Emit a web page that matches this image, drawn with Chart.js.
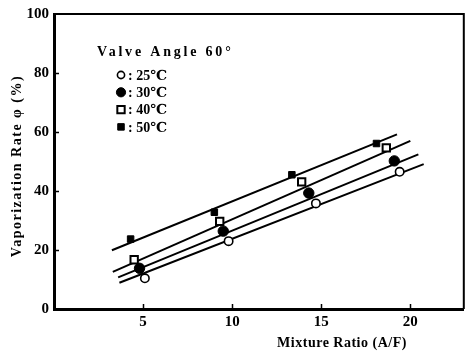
<!DOCTYPE html>
<html lang="en">
<head>
    <meta charset="UTF-8">
    <title>Vaporization Rate vs Mixture Ratio</title>
    <script src="https://cdn.jsdelivr.net/npm/chart.js"></script>
    <style>
        html, body {
            margin: 0;
            padding: 0;
            background: #fff;
        }
        .wrap {
            width: 471px;
            height: 352px;
        }
    </style>
</head>
<body>
    <div class="wrap"><canvas id="rateChart"></canvas></div>

    <script>
        // Measured points, one pair of arrays per temperature
        const temps = ['25℃', '30℃', '40℃', '50℃'];
        const ratio25 = [5.1, 9.8, 14.7, 19.4];
        const rate25  = [10.4, 23.0, 35.8, 46.5];
        const ratio30 = [4.8, 9.5, 14.3, 19.1];
        const rate30  = [13.8, 26.4, 39.3, 50.2];
        const ratio40 = [4.5, 9.3, 13.9, 18.65];
        const rate40  = [16.7, 29.7, 43.1, 54.6];
        const ratio50 = [4.3, 9.0, 13.35, 18.1];
        const rate50  = [23.7, 32.8, 45.5, 56.1];

        // Ends of the fitted line through each set
        const fitX25 = [3.67, 20.75];
        const fitY25 = [8.9, 49.1];
        const fitX30 = [3.6, 20.45];
        const fitY30 = [10.7, 52.4];
        const fitX40 = [3.3, 20.0];
        const fitY40 = [12.6, 57.0];
        const fitX50 = [3.25, 19.25];
        const fitY50 = [19.9, 59.2];

        const xTicks = [5, 10, 15, 20];
        const yTicks = [0, 20, 40, 60, 80, 100];

        const serif = '"Liberation Serif", "DejaVu Serif", serif';

        function pairs(xs, ys) {
            return xs.map((x, i) => ({ x: x, y: ys[i] }));
        }

        const markers = [
            { style: 'circle', radius: 4.2, fill: '#fff', border: 1.6 },
            { style: 'circle', radius: 5.2, fill: '#000', border: 1 },
            { style: 'rect', radius: 5.2, fill: '#fff', border: 2 },
            { style: 'rect', radius: 4.6, fill: '#000', border: 1 }
        ];

        const pointSets = [
            pairs(ratio25, rate25),
            pairs(ratio30, rate30),
            pairs(ratio40, rate40),
            pairs(ratio50, rate50)
        ];
        const fitSets = [
            pairs(fitX25, fitY25),
            pairs(fitX30, fitY30),
            pairs(fitX40, fitY40),
            pairs(fitX50, fitY50)
        ];

        const datasets = [];
        pointSets.forEach((pts, i) => {
            const m = markers[i];
            datasets.push({
                label: temps[i],
                data: pts,
                showLine: false,
                pointStyle: m.style,
                pointRadius: m.radius,
                pointBackgroundColor: m.fill,
                pointBorderColor: '#000',
                pointBorderWidth: m.border
            });
        });
        fitSets.forEach((pts, i) => {
            datasets.push({
                label: temps[i] + ' fit',
                data: pts,
                showLine: true,
                borderColor: '#000',
                borderWidth: 2,
                pointRadius: 0
            });
        });

        // Box, inward ticks, titles and the small key in the upper left
        const decorations = {
            id: 'decorations',
            afterDraw(chart) {
                const ctx = chart.ctx;
                const area = chart.chartArea;
                const xs = chart.scales.x;
                const ys = chart.scales.y;
                ctx.save();
                ctx.strokeStyle = '#000';

                // top and right edges of the frame
                ctx.lineWidth = 2;
                ctx.beginPath();
                ctx.moveTo(area.left, area.top);
                ctx.lineTo(area.right, area.top);
                ctx.lineTo(area.right, area.bottom);
                ctx.stroke();

                // ticks pointing into the plot
                ctx.lineWidth = 1.5;
                ctx.beginPath();
                xTicks.forEach(v => {
                    const px = Math.round(xs.getPixelForValue(v)) + 0.5;
                    ctx.moveTo(px, area.bottom + 1);
                    ctx.lineTo(px, area.bottom - 5);
                });
                yTicks.forEach(v => {
                    if (v === 0 || v === 100) return;
                    const py = Math.round(ys.getPixelForValue(v)) + 0.5;
                    ctx.moveTo(area.left, py);
                    ctx.lineTo(area.left + 5, py);
                });
                ctx.stroke();

                ctx.fillStyle = '#000';
                ctx.textBaseline = 'middle';

                // axis titles
                ctx.font = 'bold 14px ' + serif;
                ctx.letterSpacing = '0.5px';
                ctx.textAlign = 'center';
                ctx.fillText('Mixture Ratio (A/F)', 342, 343);

                ctx.save();
                ctx.translate(17, 166);
                ctx.rotate(-Math.PI / 2);
                ctx.letterSpacing = '1.5px';
                ctx.fillText('Vaporization Rate φ (%)', 0, 0);
                ctx.restore();

                // key
                ctx.font = 'bold 14px ' + serif;
                ctx.letterSpacing = '2.8px';
                ctx.textAlign = 'left';
                ctx.fillText('Valve Angle 60°', 97, 52);

                ctx.letterSpacing = '0px';
                ctx.font = 'bold 14px ' + serif;
                temps.forEach((t, i) => {
                    const y = 75 + i * 17.3;
                    const m = markers[i];
                    ctx.beginPath();
                    if (m.style === 'circle') {
                        ctx.arc(121, y, m.radius - 0.6, 0, Math.PI * 2);
                    } else {
                        const s = m.radius * Math.SQRT1_2;
                        ctx.rect(121 - s, y - s, s * 2, s * 2);
                    }
                    ctx.fillStyle = m.fill;
                    ctx.fill();
                    ctx.lineWidth = m.border;
                    ctx.stroke();
                    ctx.fillStyle = '#000';
                    ctx.fillText(': ' + t, 128, y + 1);
                });

                ctx.restore();
            }
        };

        const ctxRate = document.getElementById('rateChart').getContext('2d');
        const rateChart = new Chart(ctxRate, {
            type: 'scatter',
            data: { datasets: datasets },
            options: {
                responsive: true,
                maintainAspectRatio: false,
                animation: false,
                layout: {
                    padding: { top: 12, right: 1, left: 0, bottom: 0 }
                },
                plugins: {
                    legend: { display: false },
                    tooltip: { enabled: false }
                },
                scales: {
                    x: {
                        type: 'linear',
                        min: 0,
                        max: 23.0,
                        afterFit(scale) { scale.height = 43; },
                        afterBuildTicks(scale) {
                            scale.ticks = xTicks.map(v => ({ value: v }));
                        },
                        grid: { display: false, drawTicks: false },
                        border: { display: true, color: '#000', width: 3 },
                        ticks: {
                            color: '#000',
                            padding: 4,
                            maxRotation: 0,
                            font: { family: serif, size: 15, weight: 'bold' }
                        }
                    },
                    y: {
                        type: 'linear',
                        min: 0,
                        max: 100,
                        afterFit(scale) { scale.width = 54; },
                        afterBuildTicks(scale) {
                            scale.ticks = yTicks.map(v => ({ value: v }));
                        },
                        grid: { display: false, drawTicks: false },
                        border: { display: true, color: '#000', width: 3 },
                        ticks: {
                            color: '#000',
                            padding: 5,
                            font: { family: serif, size: 15, weight: 'bold' }
                        }
                    }
                }
            },
            plugins: [decorations]
        });
    </script>
</body>
</html>
